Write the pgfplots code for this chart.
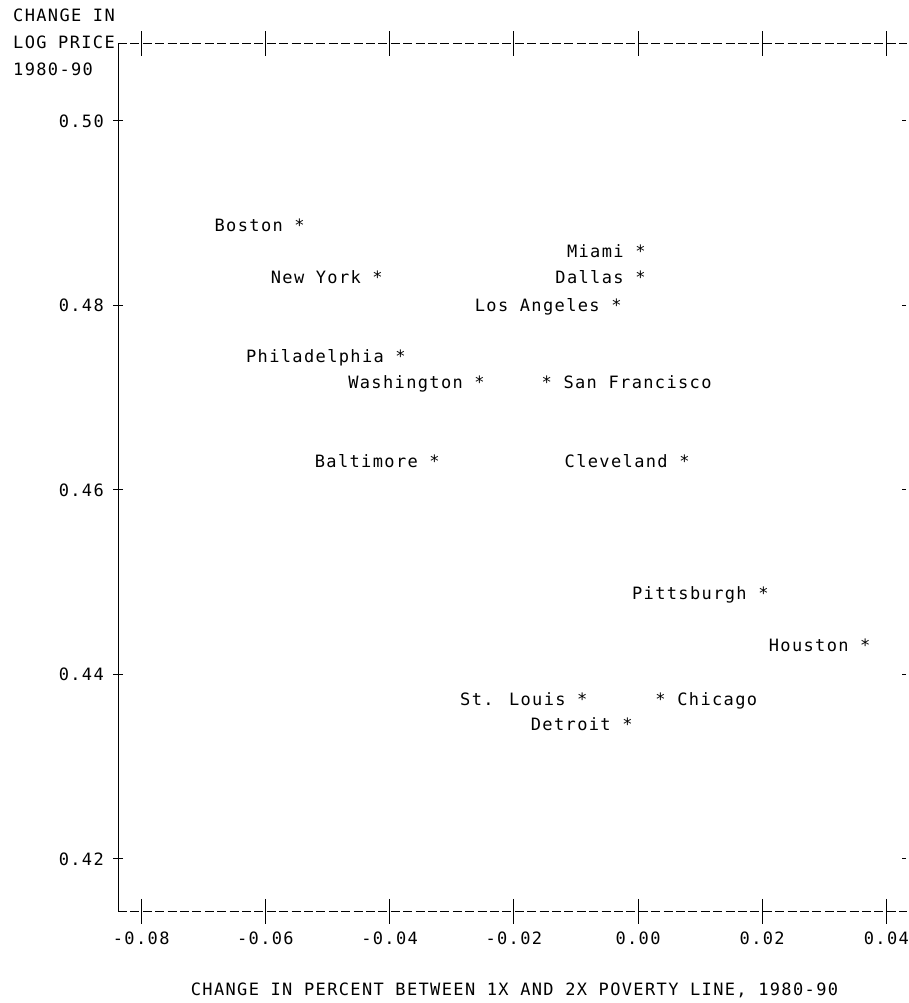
\documentclass[border=0pt]{standalone}
\usepackage{fontspec}
\setmainfont{DejaVu Sans Mono}[LetterSpace=8]
\usepackage{pgfplots}
\pgfplotsset{compat=1.18}
\begin{document}
\begin{tikzpicture}[every node/.style={font=\fontsize{17pt}{20pt}\selectfont}]
\path[use as bounding box] (0,0) rectangle (909pt,1003pt);
\begin{axis}[
  at={(118pt,91.5pt)}, anchor=south west,
  scale only axis, width=789pt, height=867.5pt,
  xmin=-0.083736, xmax=0.043317, ymin=0.414309, ymax=0.508347,
  axis line style={draw=none},
  major tick length=0pt,
  scaled x ticks=false, scaled y ticks=false,
  /pgf/number format/assume math mode=true,
  xtick={-0.08,-0.06,-0.04,-0.02,0,0.02,0.04},
  xticklabels={-0.08,-0.06,-0.04,-0.02,0.00,0.02,0.04},
  ytick={0.42,0.44,0.46,0.48,0.50},
  yticklabels={0.42,0.44,0.46,0.48,0.50},
  xticklabel style={anchor=north, inner sep=0pt, yshift=-20pt},
  yticklabel style={anchor=east, inner sep=0pt, xshift=-14pt},
  clip=false,
]
% frame
\draw[line width=1pt] (rel axis cs:0,0) -- (rel axis cs:0,1);
\draw[line width=1pt, dash pattern=on 9pt off 3.4pt] (rel axis cs:0,1) -- (rel axis cs:1,1);
\draw[line width=1pt, dash pattern=on 9pt off 3.4pt] (rel axis cs:0,0) -- (rel axis cs:1,0);
% tick marks
\addplot[only marks, mark=|, mark size=12.5pt, mark options={line width=1pt}] coordinates {
(-0.08,0.414309) (-0.06,0.414309) (-0.04,0.414309) (-0.02,0.414309) (0,0.414309) (0.02,0.414309) (0.04,0.414309)
(-0.08,0.508347) (-0.06,0.508347) (-0.04,0.508347) (-0.02,0.508347) (0,0.508347) (0.02,0.508347) (0.04,0.508347)
};
\addplot[only marks, mark=-, mark size=5pt, mark options={line width=1pt}] coordinates {
(-0.083736,0.42) (-0.083736,0.44) (-0.083736,0.46) (-0.083736,0.48) (-0.083736,0.50)
};
\addplot[only marks, mark=-, mark size=2pt, mark options={line width=1pt, xshift=-3pt}] coordinates {
(0.043317,0.42) (0.043317,0.44) (0.043317,0.46) (0.043317,0.48) (0.043317,0.50)
};
% data
\addplot[only marks, mark=none, nodes near coords, point meta=explicit symbolic,
  nodes near coords style={anchor=base east, inner sep=0pt, xshift=5.7pt, yshift=-6pt}]
coordinates {
(-0.05456,0.48867) [Boston *]
(0.00032,0.48580) [Miami *]
(-0.04200,0.48298) [New York *]
(0.00032,0.48298) [Dallas *]
(-0.00354,0.48005) [Los Angeles *]
(-0.03829,0.47442) [Philadelphia *]
(-0.02557,0.47160) [Washington *]
(-0.03282,0.46304) [Baltimore *]
(0.00741,0.46304) [Cleveland *]
(0.02013,0.44883) [Pittsburgh *]
(0.03655,0.44309) [Houston *]
(-0.00902,0.43734) [St. Louis *]
(-0.00177,0.43453) [Detroit *]
};
\addplot[only marks, mark=none, nodes near coords, point meta=explicit symbolic,
  nodes near coords style={anchor=base west, inner sep=0pt, xshift=-5.7pt, yshift=-6pt}]
coordinates {
(-0.01462,0.47160) [* San Francisco]
(0.00370,0.43734) [* Chicago]
};
\end{axis}
\node[anchor=base west, inner sep=0pt] at (13pt,981pt) {CHANGE IN};
\node[anchor=base west, inner sep=0pt] at (13pt,954pt) {LOG PRICE};
\node[anchor=base west, inner sep=0pt] at (13pt,927pt) {1980-90};
\node[anchor=base, inner sep=0pt] at (514.5pt,8pt) {CHANGE IN PERCENT BETWEEN 1X AND 2X POVERTY LINE, 1980-90};
\end{tikzpicture}
\end{document}
